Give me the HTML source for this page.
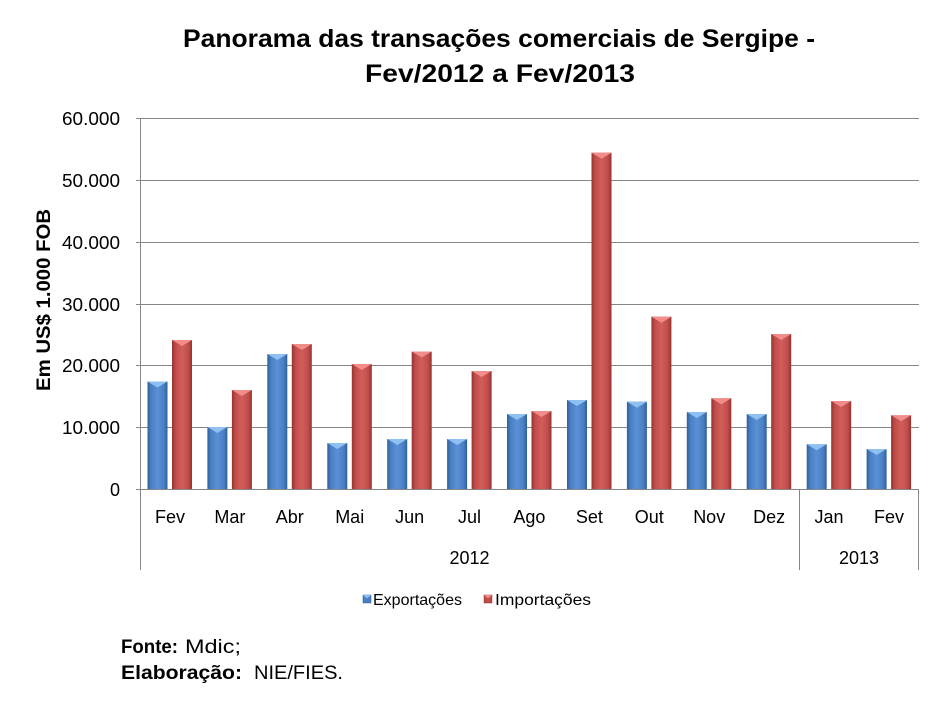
<!DOCTYPE html>
<html>
<head>
<meta charset="utf-8">
<style>
html,body{margin:0;padding:0;background:#fff;}
svg{display:block;}
text{font-family:"Liberation Sans",Arial,sans-serif;fill:#000;}
</style>
</head>
<body>
<svg width="942" height="707" viewBox="0 0 942 707" xmlns="http://www.w3.org/2000/svg">
<defs>
<linearGradient id="gb" x1="0" y1="0" x2="1" y2="0">
<stop offset="0" stop-color="#2f5f9c"/>
<stop offset="0.18" stop-color="#4a7fc2"/>
<stop offset="0.5" stop-color="#5a90d6"/>
<stop offset="0.82" stop-color="#4a7fc2"/>
<stop offset="1" stop-color="#2f5f9c"/>
</linearGradient>
<linearGradient id="gr" x1="0" y1="0" x2="1" y2="0">
<stop offset="0" stop-color="#943230"/>
<stop offset="0.18" stop-color="#bf4d4a"/>
<stop offset="0.5" stop-color="#d25e5a"/>
<stop offset="0.82" stop-color="#bf4d4a"/>
<stop offset="1" stop-color="#943230"/>
</linearGradient>
</defs>

<!-- Title -->
<text x="499" y="47" font-size="25" font-weight="bold" text-anchor="middle" textLength="632" lengthAdjust="spacingAndGlyphs">Panorama das transações comerciais de Sergipe -</text>
<text x="500" y="82" font-size="25" font-weight="bold" text-anchor="middle" textLength="270" lengthAdjust="spacingAndGlyphs">Fev/2012 a Fev/2013</text>

<!-- Gridlines -->
<g stroke="#868686" stroke-width="1">
<line x1="140" y1="118.5" x2="919" y2="118.5"/>
<line x1="140" y1="180.5" x2="919" y2="180.5"/>
<line x1="140" y1="242.5" x2="919" y2="242.5"/>
<line x1="140" y1="304.5" x2="919" y2="304.5"/>
<line x1="140" y1="365.5" x2="919" y2="365.5"/>
<line x1="140" y1="427.5" x2="919" y2="427.5"/>
<line x1="136" y1="118.5" x2="140" y2="118.5"/>
<line x1="136" y1="180.5" x2="140" y2="180.5"/>
<line x1="136" y1="242.5" x2="140" y2="242.5"/>
<line x1="136" y1="304.5" x2="140" y2="304.5"/>
<line x1="136" y1="365.5" x2="140" y2="365.5"/>
<line x1="136" y1="427.5" x2="140" y2="427.5"/>
<line x1="136" y1="489.5" x2="140" y2="489.5"/>
</g>

<!-- Bars -->
<g>
<rect x="147.5" y="381.5" width="20" height="108.5" fill="url(#gb)"/><polygon points="147.5,381.5 167.5,381.5 157.5,387.5" fill="#8fc0f2"/>
<rect x="172" y="340" width="20" height="150" fill="url(#gr)"/><polygon points="172,340 192,340 182,346" fill="#f08c89"/>

<rect x="207.4" y="427" width="20" height="63" fill="url(#gb)"/><polygon points="207.4,427 227.4,427 217.4,433" fill="#8fc0f2"/>
<rect x="231.9" y="390" width="20" height="100" fill="url(#gr)"/><polygon points="231.9,390 251.9,390 241.9,396" fill="#f08c89"/>

<rect x="267.3" y="354" width="20" height="136" fill="url(#gb)"/><polygon points="267.3,354 287.3,354 277.3,360" fill="#8fc0f2"/>
<rect x="291.8" y="344" width="20" height="146" fill="url(#gr)"/><polygon points="291.8,344 311.8,344 301.8,350" fill="#f08c89"/>

<rect x="327.3" y="443" width="20" height="47" fill="url(#gb)"/><polygon points="327.3,443 347.3,443 337.3,449" fill="#8fc0f2"/>
<rect x="351.8" y="364" width="20" height="126" fill="url(#gr)"/><polygon points="351.8,364 371.8,364 361.8,370" fill="#f08c89"/>

<rect x="387.2" y="439" width="20" height="51" fill="url(#gb)"/><polygon points="387.2,439 407.2,439 397.2,445" fill="#8fc0f2"/>
<rect x="411.7" y="351.5" width="20" height="138.5" fill="url(#gr)"/><polygon points="411.7,351.5 431.7,351.5 421.7,357.5" fill="#f08c89"/>

<rect x="447.1" y="439" width="20" height="51" fill="url(#gb)"/><polygon points="447.1,439 467.1,439 457.1,445" fill="#8fc0f2"/>
<rect x="471.6" y="371" width="20" height="119" fill="url(#gr)"/><polygon points="471.6,371 491.6,371 481.6,377" fill="#f08c89"/>

<rect x="507" y="414" width="20" height="76" fill="url(#gb)"/><polygon points="507,414 527,414 517,420" fill="#8fc0f2"/>
<rect x="531.5" y="411" width="20" height="79" fill="url(#gr)"/><polygon points="531.5,411 551.5,411 541.5,417" fill="#f08c89"/>

<rect x="567" y="400" width="20" height="90" fill="url(#gb)"/><polygon points="567,400 587,400 577,406" fill="#8fc0f2"/>
<rect x="591.5" y="152.7" width="20" height="337.3" fill="url(#gr)"/><polygon points="591.5,152.7 611.5,152.7 601.5,158.7" fill="#f08c89"/>

<rect x="626.9" y="401.7" width="20" height="88.3" fill="url(#gb)"/><polygon points="626.9,401.7 646.9,401.7 636.9,407.7" fill="#8fc0f2"/>
<rect x="651.4" y="316.7" width="20" height="173.3" fill="url(#gr)"/><polygon points="651.4,316.7 671.4,316.7 661.4,322.7" fill="#f08c89"/>

<rect x="686.8" y="412" width="20" height="78" fill="url(#gb)"/><polygon points="686.8,412 706.8,412 696.8,418" fill="#8fc0f2"/>
<rect x="711.3" y="398.3" width="20" height="91.7" fill="url(#gr)"/><polygon points="711.3,398.3 731.3,398.3 721.3,404.3" fill="#f08c89"/>

<rect x="746.7" y="414" width="20" height="76" fill="url(#gb)"/><polygon points="746.7,414 766.7,414 756.7,420" fill="#8fc0f2"/>
<rect x="771.2" y="334" width="20" height="156" fill="url(#gr)"/><polygon points="771.2,334 791.2,334 781.2,340" fill="#f08c89"/>

<rect x="806.7" y="444.3" width="20" height="45.7" fill="url(#gb)"/><polygon points="806.7,444.3 826.7,444.3 816.7,450.3" fill="#8fc0f2"/>
<rect x="831.2" y="401" width="20" height="89" fill="url(#gr)"/><polygon points="831.2,401 851.2,401 841.2,407" fill="#f08c89"/>

<rect x="866.6" y="449" width="20" height="41" fill="url(#gb)"/><polygon points="866.6,449 886.6,449 876.6,455" fill="#8fc0f2"/>
<rect x="891.1" y="415.3" width="20" height="74.7" fill="url(#gr)"/><polygon points="891.1,415.3 911.1,415.3 901.1,421.3" fill="#f08c89"/>
</g>

<!-- Axes -->
<g stroke="#868686" stroke-width="1">
<line x1="140.5" y1="118" x2="140.5" y2="570"/>
<line x1="140" y1="489.5" x2="919" y2="489.5"/>
<line x1="799.5" y1="490" x2="799.5" y2="570"/>
<line x1="918.5" y1="490" x2="918.5" y2="570"/>
</g>

<!-- Y labels -->
<g font-size="18" text-anchor="end">
<text x="120" y="125" textLength="58" lengthAdjust="spacingAndGlyphs">60.000</text>
<text x="120" y="187" textLength="58" lengthAdjust="spacingAndGlyphs">50.000</text>
<text x="120" y="249" textLength="58" lengthAdjust="spacingAndGlyphs">40.000</text>
<text x="120" y="311" textLength="58" lengthAdjust="spacingAndGlyphs">30.000</text>
<text x="120" y="372" textLength="58" lengthAdjust="spacingAndGlyphs">20.000</text>
<text x="120" y="434" textLength="58" lengthAdjust="spacingAndGlyphs">10.000</text>
<text x="120" y="496">0</text>
</g>

<!-- Y title -->
<text transform="translate(50,300) rotate(-90)" font-size="19" font-weight="bold" text-anchor="middle" textLength="182" lengthAdjust="spacingAndGlyphs">Em US$ 1.000 FOB</text>

<!-- Category labels -->
<g font-size="18" text-anchor="middle">
<text x="170" y="523">Fev</text>
<text x="229.9" y="523">Mar</text>
<text x="289.8" y="523">Abr</text>
<text x="349.7" y="523">Mai</text>
<text x="409.6" y="523">Jun</text>
<text x="469.5" y="523">Jul</text>
<text x="529.4" y="523">Ago</text>
<text x="589.4" y="523">Set</text>
<text x="649.3" y="523">Out</text>
<text x="709.2" y="523">Nov</text>
<text x="769.1" y="523">Dez</text>
<text x="829" y="523">Jan</text>
<text x="889" y="523">Fev</text>
<text x="469.5" y="564">2012</text>
<text x="859" y="564">2013</text>
</g>

<!-- Legend -->
<rect x="363" y="595" width="8" height="8" fill="#4a7fc2" stroke="#2f5f9c" stroke-width="0.5"/>
<polygon points="363,595 371,595 367,598.5" fill="#8fc0f2"/>
<text x="373" y="605" font-size="16" textLength="89" lengthAdjust="spacingAndGlyphs">Exportações</text>
<rect x="484" y="595" width="8" height="8" fill="#bf4d4a" stroke="#943230" stroke-width="0.5"/>
<polygon points="484,595 492,595 488,598.5" fill="#f08c89"/>
<text x="495" y="605" font-size="16" textLength="96" lengthAdjust="spacingAndGlyphs">Importações</text>

<!-- Footer -->
<text x="121" y="653" font-size="19" font-weight="bold" textLength="57" lengthAdjust="spacingAndGlyphs">Fonte:</text>
<text x="185" y="653" font-size="19" textLength="56" lengthAdjust="spacingAndGlyphs">Mdic;</text>
<text x="121" y="679" font-size="19" font-weight="bold" textLength="121" lengthAdjust="spacingAndGlyphs">Elaboração:</text>
<text x="254" y="679" font-size="19" textLength="89" lengthAdjust="spacingAndGlyphs">NIE/FIES.</text>
</svg>
</body>
</html>
